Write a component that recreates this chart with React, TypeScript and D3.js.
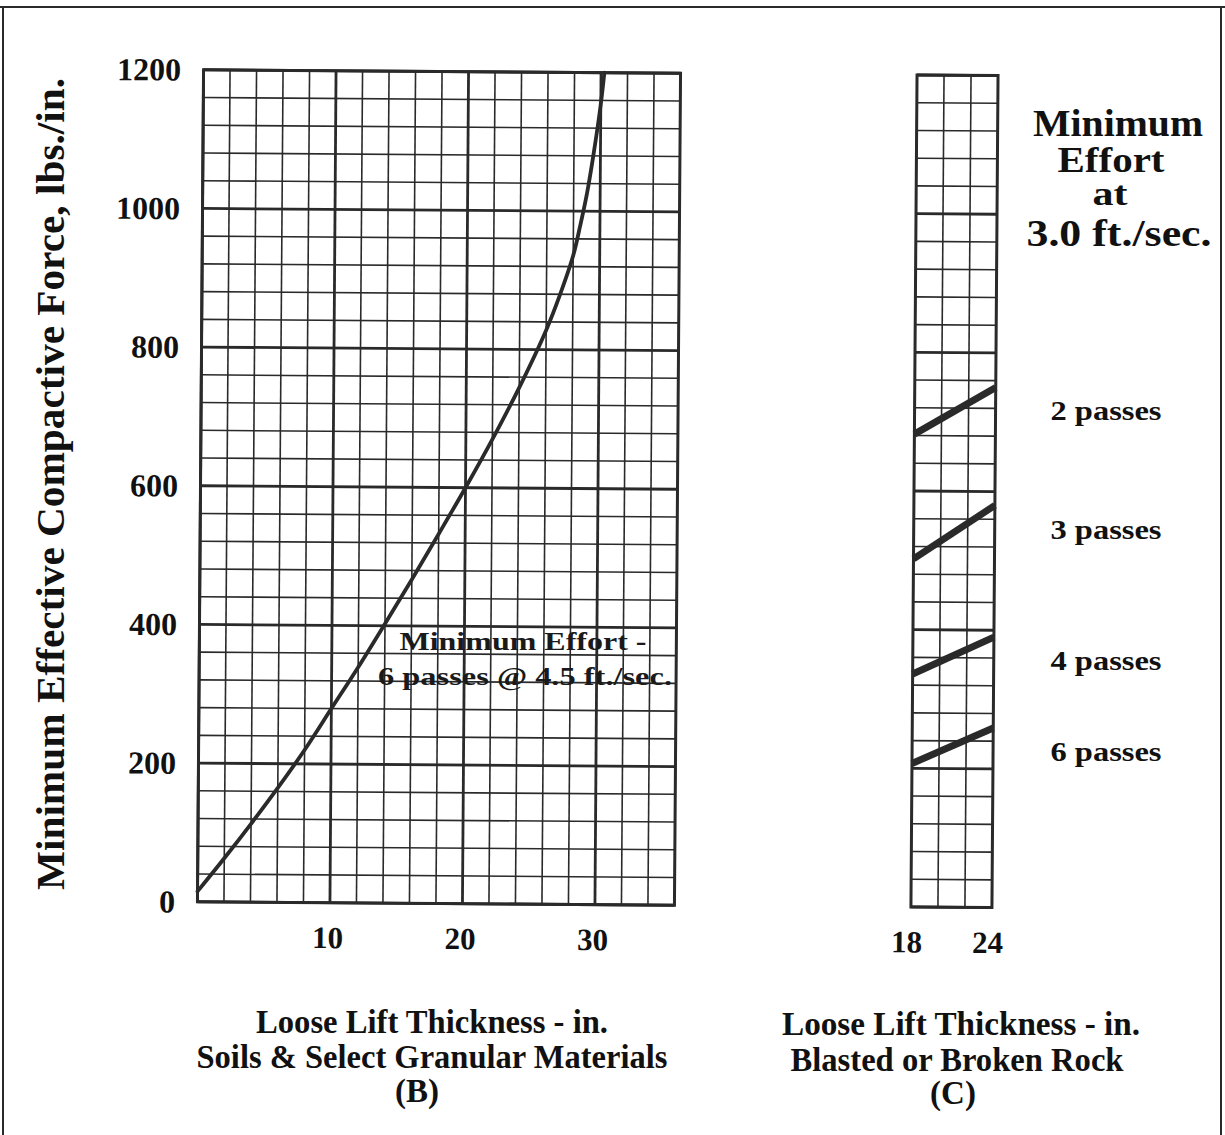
import React from "react";
import * as d3 from "d3";

// ---- data ----
const forceTicks = [0, 200, 400, 600, 800, 1000, 1200];
const soilTicks = [10, 20, 30];
const rockTicks = [18, 24];

// Curve (B): minimum effort, 6 passes @ 4.5 ft./sec.
const curveThickness = [0, 2, 4, 6, 8, 10, 12, 14, 16, 18, 20, 22, 24, 26, 27, 28, 28.5, 29, 29.5, 30, 30.25];
const curveForce = [15, 63, 113, 165, 220, 280, 340, 403, 467, 533, 600, 670, 745, 828, 878, 936, 978, 1025, 1085, 1155, 1200];

// Chart (C): blasted or broken rock, 3.0 ft./sec.
const rockThickness = [18, 24];
const passLabels = ["2 passes", "3 passes", "4 passes", "6 passes"];
const passForces = [
  [682, 750],
  [502, 580],
  [336, 390],
  [207, 259],
];

const FONT = "'Liberation Serif', 'Times New Roman', serif";
const INK = "#2a2a2a";

export default function App() {
  const W = 1225;
  const H = 1135;

  const y = d3.scaleLinear().domain([0, 1200]).range([903.5, 71.5]);
  const xL = d3.scaleLinear().domain([0, 36]).range([200.5, 677.5]);
  const xR = d3.scaleLinear().domain([18, 24]).range([914, 995]);

  const line = d3
    .line<[number, number]>()
    .x((d) => xL(d[0]))
    .y((d) => y(d[1]))
    .curve(d3.curveCatmullRom.alpha(0.5));
  const curvePts: [number, number][] = curveThickness.map((t, i) => [t, curveForce[i]]);

  const rockLine = d3
    .line<[number, number]>()
    .x((d) => xR(d[0]))
    .y((d) => y(d[1]));

  const hVals = d3.range(0, 1201, 40);
  const vValsL = d3.range(0, 37, 2);
  const vValsR = d3.range(18, 24.01, 2);

  const [x0, x1] = xL.range();
  const [y0, y1] = y.range();
  const [r0, r1] = xR.range();

  const pLabelY = [420, 539, 670, 761];

  return (
    <svg
      width={W}
      height={H}
      viewBox={`0 0 ${W} ${H}`}
      style={{ position: "absolute", left: 0, top: 0, background: "#fff" }}
      fontFamily={FONT}
      fontWeight="bold"
    >
      <rect x={0} y={0} width={W} height={H} fill="#fff" />
      {/* page frame */}
      <line x1={0} x2={W} y1={7} y2={7} stroke={INK} strokeWidth={2} />
      <line x1={3} x2={3} y1={7} y2={H} stroke={INK} strokeWidth={2} />
      <line x1={1221} x2={1221} y1={7} y2={H} stroke={INK} strokeWidth={2} />

      <g transform="rotate(0.42, 439, 487.5)">
        {/* ---- left chart (B) ---- */}
        <g>
          {hVals.map((v) => (
            <line
              key={"hl" + v}
              x1={x0}
              x2={x1}
              y1={y(v)}
              y2={y(v)}
              stroke={INK}
              strokeWidth={v % 200 === 0 ? 2.8 : 1.6}
            />
          ))}
          {vValsL.map((v) => (
            <line
              key={"vl" + v}
              x1={xL(v)}
              x2={xL(v)}
              y1={y0}
              y2={y1}
              stroke={INK}
              strokeWidth={v % 10 === 0 ? 2.8 : 1.6}
            />
          ))}
          <rect x={x0} y={y1} width={x1 - x0} height={y0 - y1} fill="none" stroke={INK} strokeWidth={3} />
          <path d={line(curvePts) || ""} fill="none" stroke={INK} strokeWidth={3.8} strokeLinecap="round" />
          {forceTicks.map((v) => (
            <text key={"yt" + v} x={178} y={y(v)} textAnchor="end" dominantBaseline="central" fontSize={32} fill="#111">
              {v}
            </text>
          ))}
          {soilTicks.map((v) => (
            <text key={"xt" + v} x={xL(v) - 2} y={949} textAnchor="middle" fontSize={31} fill="#111">
              {v}
            </text>
          ))}
        </g>

        {/* ---- right chart (C) ---- */}
        <g>
          {hVals.map((v) => (
            <line
              key={"hr" + v}
              x1={r0}
              x2={r1}
              y1={y(v)}
              y2={y(v)}
              stroke={INK}
              strokeWidth={v % 200 === 0 ? 2.8 : 1.6}
            />
          ))}
          {vValsR.map((v) => (
            <line key={"vr" + v} x1={xR(v)} x2={xR(v)} y1={y0} y2={y1} stroke={INK} strokeWidth={1.6} />
          ))}
          <rect x={r0} y={y1} width={r1 - r0} height={y0 - y1} fill="none" stroke={INK} strokeWidth={3} />
          {passForces.map((f, i) => (
            <path
              key={"p" + i}
              d={rockLine(rockThickness.map((t, j) => [t, f[j]] as [number, number])) || ""}
              fill="none"
              stroke={INK}
              strokeWidth={7}
            />
          ))}
          {rockTicks.map((v) => (
            <text key={"rt" + v} x={xR(v) - 4} y={949} textAnchor="middle" fontSize={31} fill="#111">
              {v}
            </text>
          ))}
        </g>
      </g>

      {/* y-axis title */}
      <text
        transform="translate(64, 484) rotate(-90)"
        textAnchor="middle"
        fontSize={41}
        textLength={812}
        lengthAdjust="spacingAndGlyphs"
        fill="#111"
      >
        Minimum Effective Compactive Force, lbs./in.
      </text>

      {/* annotation in chart B */}
      <text x={523} y={650} textAnchor="middle" fontSize={26} textLength={247} lengthAdjust="spacingAndGlyphs" fill="#1a1a1a">
        Minimum Effort -
      </text>
      <text x={525} y={685} textAnchor="middle" fontSize={26} textLength={294} lengthAdjust="spacingAndGlyphs" fill="#1a1a1a">
        6 passes @ 4.5 ft./sec.
      </text>

      {/* title of chart C */}
      <g textAnchor="middle" fill="#111">
        <text x={1118} y={136} fontSize={37} textLength={170} lengthAdjust="spacingAndGlyphs">Minimum</text>
        <text x={1111} y={172} fontSize={36} textLength={107} lengthAdjust="spacingAndGlyphs">Effort</text>
        <text x={1110} y={205} fontSize={34} textLength={35} lengthAdjust="spacingAndGlyphs">at</text>
        <text x={1119} y={246} fontSize={37} textLength={185} lengthAdjust="spacingAndGlyphs">3.0 ft./sec.</text>
      </g>

      {/* pass labels */}
      <g textAnchor="middle" fontSize={28} fill="#111">
        {passLabels.map((s, i) => (
          <text key={s} x={1106} y={pLabelY[i]} textLength={111} lengthAdjust="spacingAndGlyphs">
            {s}
          </text>
        ))}
      </g>

      {/* bottom labels */}
      <g textAnchor="middle" fontSize={33} fill="#111">
        <text x={432} y={1033} textLength={352} lengthAdjust="spacingAndGlyphs">Loose Lift Thickness - in.</text>
        <text x={432} y={1068} textLength={471} lengthAdjust="spacingAndGlyphs">Soils &amp; Select Granular Materials</text>
        <text x={417} y={1102}>(B)</text>
        <text x={961} y={1035} textLength={358} lengthAdjust="spacingAndGlyphs">Loose Lift Thickness -  in.</text>
        <text x={957} y={1071} textLength={333} lengthAdjust="spacingAndGlyphs">Blasted or Broken Rock</text>
        <text x={953} y={1104}>(C)</text>
      </g>
    </svg>
  );
}
